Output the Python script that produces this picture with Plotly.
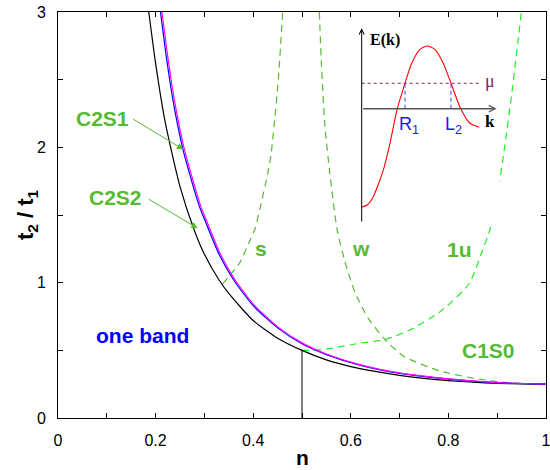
import plotly.graph_objects as go

# ---------------- main chart data ----------------
N_BLACK = [0.186, 0.2, 0.22, 0.25, 0.28, 0.3, 0.33, 0.35, 0.4, 0.45, 0.5,
           0.55, 0.6, 0.65, 0.7, 0.75, 0.8, 0.85, 0.9, 0.95, 1.0]
T_BLACK = [3.0, 2.62, 2.18, 1.71, 1.38, 1.21, 1.02, 0.92, 0.72, 0.59, 0.50,
           0.43, 0.38, 0.344, 0.315, 0.293, 0.276, 0.264, 0.256, 0.252, 0.25]

N_BLUE = [0.21, 0.22, 0.23, 0.24, 0.255, 0.27, 0.29, 0.30, 0.33, 0.36, 0.40,
          0.45, 0.5, 0.55, 0.62, 0.7, 0.78, 0.9, 1.0]
T_BLUE = [3.0, 2.72, 2.47, 2.26, 2.0, 1.80, 1.56, 1.47, 1.21, 1.02, 0.83,
          0.666, 0.548, 0.468, 0.389, 0.33, 0.295, 0.261, 0.25]

N_MAGENTA = [0.213, 0.223, 0.233, 0.243, 0.258, 0.273, 0.293, 0.303, 0.333, 0.363,
             0.403, 0.453, 0.5, 0.55, 0.62, 0.7, 0.78, 0.9, 1.0]
T_MAGENTA = [3.0, 2.72, 2.47, 2.26, 2.0, 1.80, 1.56, 1.47, 1.21, 1.02,
             0.83, 0.666, 0.555, 0.473, 0.393, 0.333, 0.297, 0.262, 0.25]

N_S = [0.337, 0.356, 0.373, 0.393, 0.404, 0.414, 0.43, 0.437, 0.4426, 0.4515, 0.4604]
T_S = [0.99, 1.07, 1.15, 1.31, 1.40, 1.55, 1.81, 1.96, 2.155, 2.5, 3.0]

N_W = [0.5355, 0.540, 0.547, 0.557, 0.572, 0.59, 0.609, 0.635, 0.67, 0.708,
       0.78, 0.85, 0.91, 0.95, 1.0]
T_W = [3.0, 2.6, 2.155, 1.81, 1.39, 1.13, 0.925, 0.74, 0.58, 0.456,
       0.35, 0.295, 0.265, 0.255, 0.25]

N_1U = [0.5, 0.523, 0.56, 0.619, 0.67, 0.721, 0.783, 0.842, 0.869, 0.885,
        0.899, 0.915, 0.93, 0.9495]
T_1U = [0.5, 0.50, 0.515, 0.553, 0.58, 0.65, 0.785, 0.99, 1.23, 1.39,
        1.61, 2.0, 2.4, 3.0]

VLINE_N = [0.5, 0.5]
VLINE_T = [0.0, 0.5]

X_TICKS = [0, 0.2, 0.4, 0.6, 0.8, 1.0]
X_TICK_TEXT = ["0", "0.2", "0.4", "0.6", "0.8", "1"]
Y_TICKS = [0, 1, 2, 3]
Y_TICK_TEXT = ["0", "1", "2", "3"]

# ---------------- inset data: dispersion E(k) ----------------
K_RED = [0.0, 0.155, 0.311, 0.579, 0.758, 0.953, 1.160, 1.339, 1.561, 1.757,
         1.963, 2.185, 2.392, 2.652, 2.900, 3.150]
E_RED = [-4.93, -4.80, -4.40, -3.07, -1.73, 0.0, 1.27, 2.27, 2.97, 3.135,
         2.97, 2.27, 1.27, 0.0, -0.73, -0.93]
MU = 1.27
K_MU_LINE = [0.0, 3.142]
K_R1 = 1.160
K_L2 = 2.392

GREEN_TXT = "#55bb33"
GREEN_DARK = "#55bb33"
GREEN_BRIGHT = "#22ee22"
FONT = "Liberation Sans, Arial, sans-serif"
SERIF = "Liberation Serif, Times New Roman, serif"

fig = go.Figure()


def add_line(x, y, color, width=1.0, dash=None, xa="x", ya="y", smooth=True):
    fig.add_trace(go.Scatter(
        x=x, y=y, mode="lines", xaxis=xa, yaxis=ya,
        line=dict(color=color, width=width, dash=dash,
                  shape="spline" if smooth else "linear", smoothing=0.6),
        hoverinfo="skip", showlegend=False))


DASH = "7px,5px"
add_line(N_S, T_S, GREEN_DARK, 1.2, DASH)
add_line(N_W, T_W, GREEN_DARK, 1.2, DASH)
add_line(N_1U, T_1U, GREEN_BRIGHT, 1.2, DASH)
add_line(VLINE_N, VLINE_T, "black", 1.0, smooth=False)
add_line(N_BLACK, T_BLACK, "black", 1.2)
add_line(N_BLUE, T_BLUE, "#0000ff", 1.2)
add_line(N_MAGENTA, T_MAGENTA, "#ff00ff", 1.2)

# inset
add_line(K_RED, E_RED, "#ff0000", 1.1, xa="x2", ya="y2")
add_line(K_MU_LINE, [MU, MU], "#802060", 1.0, "dot", xa="x2", ya="y2", smooth=False)
add_line([K_R1, K_R1], [0, MU], "#3344ff", 1.0, "4px,3px", xa="x2", ya="y2", smooth=False)
add_line([K_L2, K_L2], [0, MU], "#3344ff", 1.0, "4px,3px", xa="x2", ya="y2", smooth=False)

annotations = []


def txt(x, y, text, color, size, family=FONT, xref="x", yref="y", **kw):
    annotations.append(dict(x=x, y=y, xref=xref, yref=yref, text=text,
                            showarrow=False, xanchor="center", yanchor="middle",
                            font=dict(color=color, size=size, family=family),
                            **kw))


def arrow(x, y, ax, ay, color, width=1.0, head=2, size=1.0, xref="x", yref="y"):
    annotations.append(dict(x=x, y=y, ax=ax, ay=ay, xref=xref, yref=yref,
                            axref=xref, ayref=yref, text="", showarrow=True,
                            arrowhead=head, arrowsize=size, arrowwidth=width,
                            arrowcolor=color, standoff=0, startstandoff=0))


# green labels
txt(0.0916, 2.211, "<b>C2S1</b>", GREEN_TXT, 21)
txt(0.1185, 1.626, "<b>C2S2</b>", GREEN_TXT, 21)
txt(0.415, 1.255, "<b>s</b>", GREEN_TXT, 21)
txt(0.6216, 1.255, "<b>w</b>", GREEN_TXT, 21)
txt(0.8224, 1.245, "<b>1u</b>", GREEN_TXT, 21)
txt(0.883, 0.502, "<b>C1S0</b>", GREEN_TXT, 21)
txt(0.1727, 0.606, "<b>one band</b>", "#0000ff", 21)
arrow(0.2568, 1.985, 0.151, 2.215, GREEN_TXT, 1.0, head=2, size=1.3)
arrow(0.2863, 1.402, 0.183, 1.623, GREEN_TXT, 1.0, head=2, size=1.3)

# axis titles
txt(0.5, -0.0985, "<b>n</b>", "black", 21, xref="paper", yref="paper")
txt(-0.0635, 0.5, "<b>t<sub>2</sub> / t<sub>1</sub></b>", "black", 22,
    xref="paper", yref="paper", textangle=-90)

# inset axes and labels
arrow(0.0, 4.02, 0.0, -5.715, "black", 1.0, head=5, size=1.0, xref="x2", yref="y2")
arrow(3.616, 0.0, 0.0, 0.0, "#555555", 1.6, head=5, size=0.8, xref="x2", yref="y2")
txt(0.637, 3.43, "<b>E(k)</b>", "black", 16, family=SERIF, xref="x2", yref="y2")
txt(3.431, -0.62, "<b>k</b>", "black", 17, family=SERIF, xref="x2", yref="y2")
txt(3.444, 1.38, "μ", "#802070", 18, family=SERIF, xref="x2", yref="y2")
txt(1.267, -0.85, "R<sub>1</sub>", "#1a1aff", 18, xref="x2", yref="y2")
txt(2.472, -0.85, "L<sub>2</sub>", "#1a1aff", 18, xref="x2", yref="y2")

axis_common = dict(showgrid=False, zeroline=False, showline=True, linecolor="black",
                   linewidth=1, mirror="allticks", ticks="inside", ticklen=5,
                   tickcolor="black", tickwidth=1, automargin=False,
                   ticklabeloverflow="allow",
                   tickfont=dict(family=FONT, size=16, color="black"))

fig.update_layout(
    width=550, height=470,
    margin=dict(l=58, r=4, t=12, b=52),
    plot_bgcolor="white", paper_bgcolor="white",
    showlegend=False,
    xaxis=dict(range=[0, 1], tickmode="array", tickvals=X_TICKS, ticktext=X_TICK_TEXT,
               ticklabelstandoff=8,
               minor=dict(dtick=0.1, ticks="inside", ticklen=5, tickcolor="black",
                          showgrid=False),
               **axis_common),
    yaxis=dict(range=[0, 3], tickmode="array", tickvals=Y_TICKS, ticktext=Y_TICK_TEXT,
               ticklabelstandoff=8,
               minor=dict(dtick=0.5, ticks="inside", ticklen=5, tickcolor="black",
                          showgrid=False),
               **axis_common),
    xaxis2=dict(domain=[0.6223, 0.9057], range=[0, 3.704], visible=False,
                anchor="y2", fixedrange=True),
    yaxis2=dict(domain=[0.4803, 0.968], range=[-5.715, 4.185], visible=False,
                anchor="x2", fixedrange=True),
    annotations=annotations,
)

fig.write_html("out.html", config={"displayModeBar": False},
               post_script="document.body.style.margin='0';document.body.style.overflow='hidden';")
